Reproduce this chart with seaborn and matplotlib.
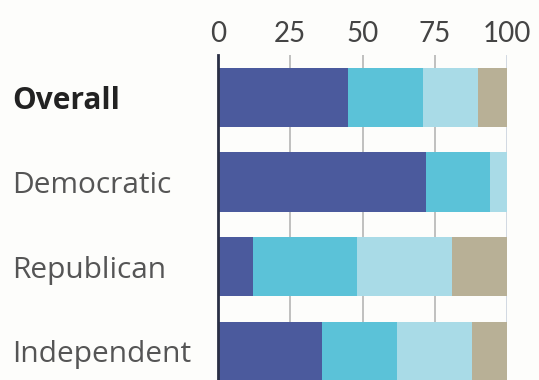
import matplotlib
matplotlib.use("Agg")
import matplotlib.pyplot as plt
import seaborn as sns
import pandas as pd
import numpy as np

categories = ["Overall", "Democratic", "Republican", "Independent"]
seg1 = [45, 72, 12, 36]
seg2 = [26, 22, 36, 26]
seg3 = [19, 6, 33, 26]
seg4 = [10, 0, 19, 12]
xticks = [0, 25, 50, 75, 100]
colors = ["#4b5a9d", "#5bc2d8", "#a9dbe7", "#b8b096"]

sns.set_style("white")
plt.rcParams["font.family"] = ["Open Sans", "DejaVu Sans"]

fig = plt.figure(figsize=(5.39, 3.80), dpi=100)
fig.patch.set_facecolor("#fdfdfb")
ax = fig.add_axes([218 / 539, 0.0, (507 - 218) / 539, 1 - 55 / 380])
ax.set_facecolor("#fdfdfb")

segs = [seg1, seg2, seg3, seg4]
cum = np.cumsum(np.array(segs), axis=0)
for i in range(3, -1, -1):
    df = pd.DataFrame({"cat": categories, "val": cum[i]})
    sns.barplot(data=df, x="val", y="cat", orient="h", color=colors[i],
                width=0.70, ax=ax, saturation=1, linewidth=0, zorder=3)

ax.set_xlim(0, 100)
ax.set_ylim(3.34, -0.5)
ax.set_xlabel("")
ax.set_ylabel("")
ax.xaxis.tick_top()
ax.set_xticks(xticks)
ax.set_xticklabels([str(t) for t in xticks], fontsize=20, color="#444444",
                   family=["Lato", "DejaVu Sans"])
ax.tick_params(axis="x", length=0, pad=6)
for t in xticks[1:4]:
    ax.axvline(t, color="#b5b5b5", lw=1.2, zorder=1)
ax.axvline(100, color="#cdd5e0", lw=2.0, zorder=1)

ax.set_yticks(range(len(categories)))
ax.set_yticklabels(categories, fontsize=21.5)
ax.tick_params(axis="y", length=0, pad=(218 - 12) * 72 / 100)
for lab in ax.get_yticklabels():
    lab.set_ha("left")
    if lab.get_text() == "Overall":
        lab.set_fontweight("bold")
        lab.set_color("#222222")
    else:
        lab.set_color("#555555")

for s in ["top", "right", "bottom"]:
    ax.spines[s].set_visible(False)
ax.spines["left"].set_color("#2a2f45")
ax.spines["left"].set_linewidth(2)
ax.spines["left"].set_zorder(5)

fig.savefig("out.png", dpi=100, facecolor=fig.get_facecolor())
